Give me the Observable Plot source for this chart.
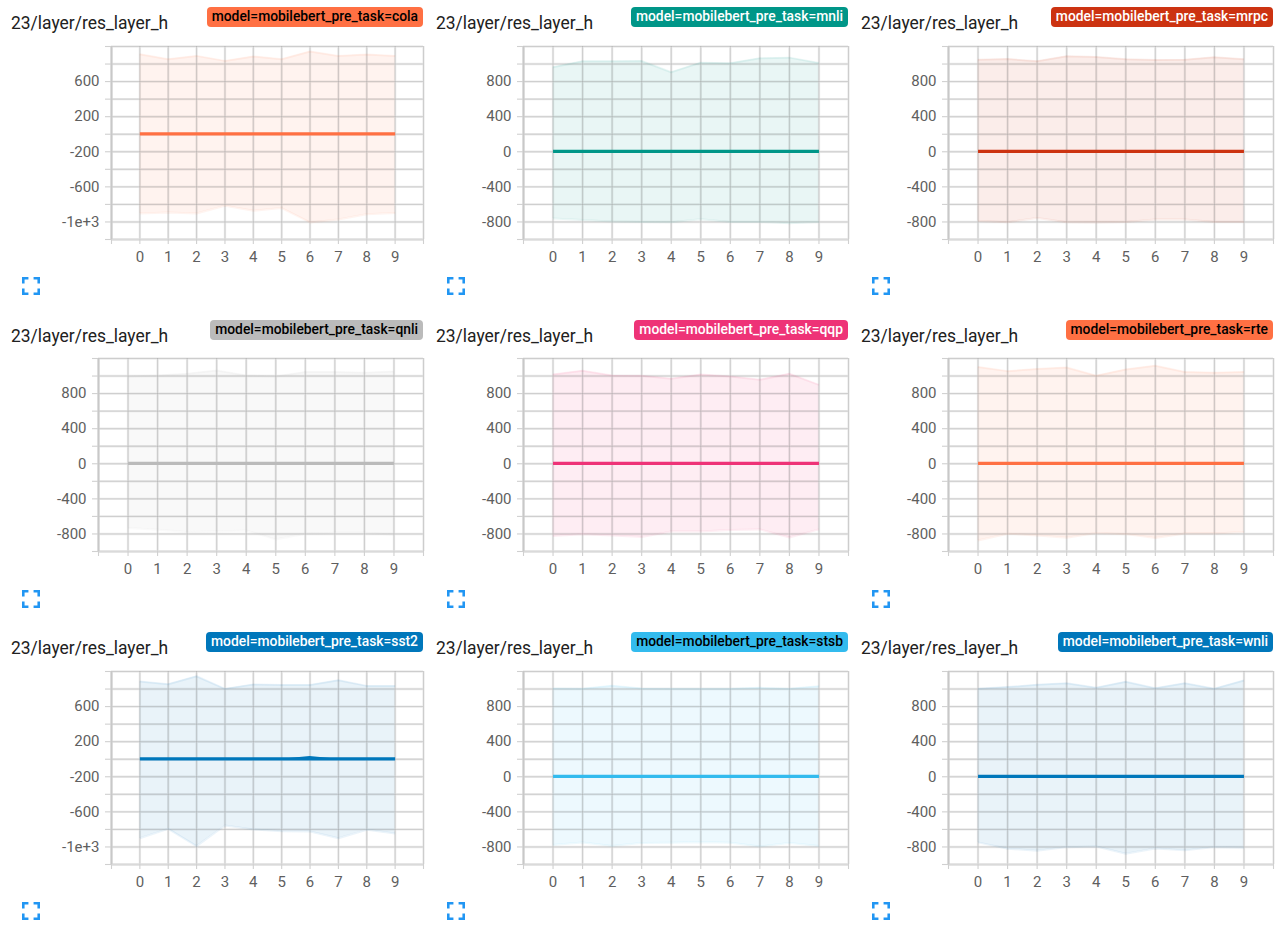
<!DOCTYPE html>
<html>
<head>
<meta charset="utf-8">
<script src="https://cdn.jsdelivr.net/npm/d3@7"></script>
<script src="https://cdn.jsdelivr.net/npm/@observablehq/plot@0.6"></script>
<style>
  html, body { margin: 0; padding: 0; background: #fff; }
  body { position: relative; width: 1278px; height: 928px; overflow: hidden; font-family: Roboto, sans-serif; }
  .panel { position: absolute; width: 425px; height: 312px; }
  .panel svg.chart { position: absolute; left: 0; background: transparent; }
  .title { position: absolute; left: 11px; top: 12px; font-size: 17.45px; line-height: 22px; color: #212121; white-space: nowrap; }
  .badge { position: absolute; right: 2px; top: 7px; height: 20px; line-height: 19px; padding: 0 5px; border-radius: 4px; font-size: 13.85px; font-weight: 500; white-space: nowrap; }
  .icon { position: absolute; left: 22px; top: 277px; width: 18px; height: 18px; }
</style>
</head>
<body>
<script>
var steps = [0, 1, 2, 3, 4, 5, 6, 7, 8, 9];
var xTicks = [-1, 0, 1, 2, 3, 4, 5, 6, 7, 8, 9, 10];

var tasks = ["cola", "mnli", "mrpc", "qnli", "qqp", "rte", "sst2", "stsb", "wnli"];
var colors = ["#ff7043", "#009688", "#cc3311", "#bbbbbb", "#ee3377", "#ff7043", "#0077bb", "#33bbee", "#0077bb"];
var badgeText = ["#000", "#fff", "#fff", "#000", "#fff", "#000", "#fff", "#000", "#fff"];

// distribution envelope per task
var colaUpper = [912, 855, 893, 836, 886, 855, 943, 893, 908, 893];
var colaLower = [-903, -892, -903, -816, -873, -842, -1005, -971, -911, -899];
var mnliUpper = [963, 1031, 1031, 1035, 906, 1016, 1009, 1065, 1073, 1012];
var mnliLower = [-762, -777, -796, -800, -803, -769, -800, -800, -815, -800];
var mrpcUpper = [1050, 1058, 1031, 1088, 1081, 1054, 1046, 1050, 1077, 1054];
var mrpcLower = [-788, -803, -754, -803, -807, -800, -773, -773, -800, -800];
var qnliUpper = [995, 1007, 1026, 1064, 1007, 995, 1045, 1045, 1037, 1052];
var qnliLower = [-733, -752, -779, -771, -760, -862, -798, -786, -786, -809];
var qqpUpper = [1018, 1060, 1007, 1003, 969, 1018, 995, 957, 1026, 900];
var qqpLower = [-824, -802, -817, -836, -771, -771, -756, -748, -840, -748];
var rteUpper = [1102, 1056, 1079, 1098, 1003, 1075, 1117, 1045, 1037, 1045];
var rteLower = [-874, -798, -817, -843, -790, -802, -847, -794, -794, -779];
var sst2Upper = [885, 855, 946, 802, 851, 847, 847, 900, 836, 836];
var sst2Lower = [-900, -794, -991, -756, -802, -820, -824, -900, -805, -847];
var stsbUpper = [1007, 1003, 1037, 1007, 1003, 1003, 1003, 1014, 1003, 1033];
var stsbLower = [-779, -748, -790, -756, -752, -745, -752, -794, -756, -790];
var wnliUpper = [1003, 1022, 1048, 1067, 1014, 1083, 1010, 1067, 1003, 1098];
var wnliLower = [-748, -820, -843, -802, -794, -877, -817, -839, -802, -809];

// means sit on zero, only sst2 moves a little around step 6
var flatMean = [0, 0, 0, 0, 0, 0, 0, 0, 0, 0];
var sst2Mean = [0, -3, 0, 0, 0, 0, 30, 0, 0, 0];

var uppers = [colaUpper, mnliUpper, mrpcUpper, qnliUpper, qqpUpper, rteUpper, sst2Upper, stsbUpper, wnliUpper];
var lowers = [colaLower, mnliLower, mrpcLower, qnliLower, qqpLower, rteLower, sst2Lower, stsbLower, wnliLower];
var means = [flatMean, flatMean, flatMean, flatMean, flatMean, flatMean, sst2Mean, flatMean, flatMean];

// two y layouts show up in the grid
var yDomains = [[-1200, 1000], [-1000, 1200], [-1000, 1200], [-1000, 1200], [-1000, 1200], [-1000, 1200], [-1200, 1000], [-1000, 1200], [-1000, 1200]];
var oddGrid = [-1200, -1000, -800, -600, -400, -200, 0, 200, 400, 600, 800, 1000];
var oddLabels = [-1000, -600, -200, 200, 600];
var evenGrid = [-1000, -800, -600, -400, -200, 0, 200, 400, 600, 800, 1000, 1200];
var evenLabels = [-800, -400, 0, 400, 800];

var colX = [0, 425, 850];
var rowY = [0, 313, 625];
var plotY = [0, -1, 0];
var titleText = "23/layer/res_layer_h";
var haloColor = "#ececec";
var coreColor = "#8c8c8c";

function drawPanel(i) {
    var odd = yDomains[i][0] === -1200;
    var gridVals = odd ? oddGrid : evenGrid;
    var labelVals = odd ? oddLabels : evenLabels;
    var color = colors[i];
    var data = steps.map(function (s, k) {
        return { step: s, hi: uppers[i][k], lo: lowers[i][k], mean: means[i][k] };
    });

    var chart = Plot.plot({
        width: 425,
        height: 270,
        marginTop: 46,
        marginBottom: 31,
        marginLeft: odd ? 111 : 98,
        marginRight: 2,
        style: { fontFamily: "Roboto, sans-serif", fontSize: "15px", color: "#5f5f5f", background: "transparent" },
        x: { domain: [-1, 10] },
        y: { domain: yDomains[i] },
        marks: [
            // blurry grid of the screenshot: a pale halo under the band, a thin core over it
            Plot.gridX(xTicks, { stroke: haloColor, strokeOpacity: 1, strokeWidth: 2.4 }),
            Plot.gridY(gridVals, { stroke: haloColor, strokeOpacity: 1, strokeWidth: 2.4 }),
            Plot.areaY(data, { x: "step", y1: "lo", y2: "hi", fill: color, fillOpacity: 0.085 }),
            Plot.gridX(xTicks, { stroke: coreColor, strokeOpacity: 0.32, strokeWidth: 1 }),
            Plot.gridY(gridVals, { stroke: coreColor, strokeOpacity: 0.32, strokeWidth: 1 }),
            Plot.ruleY([yDomains[i][0]], { stroke: "#dadada", strokeWidth: 2 }),
            Plot.ruleX([-1], { stroke: "#c8c8c8", strokeWidth: 2 }),
            Plot.lineY(data, { x: "step", y: "hi", stroke: color, strokeOpacity: 0.08, strokeWidth: 2, strokeLinecap: "butt" }),
            Plot.lineY(data, { x: "step", y: "lo", stroke: color, strokeOpacity: 0.08, strokeWidth: 2, strokeLinecap: "butt" }),
            Plot.areaY(data, { x: "step", y1: 0, y2: "mean", fill: color }),
            Plot.lineY(data, { x: "step", y: 0, stroke: color, strokeWidth: 3.2, strokeLinecap: "butt", dy: -0.4 }),
            Plot.axisX({
                ticks: xTicks, tickSize: 5, tickPadding: 7, label: null, stroke: "#d0d0d0", strokeWidth: 1.1,
                tickFormat: function (d) { return d >= 0 && d <= 9 ? String(d) : ""; }
            }),
            Plot.axisY({
                ticks: gridVals, tickSize: 6, tickPadding: 6, label: null, stroke: "#d0d0d0", strokeWidth: 1.1,
                tickFormat: function (d) {
                    if (labelVals.indexOf(d) < 0) return "";
                    return d === -1000 ? "-1e+3" : String(d);
                }
            })
        ]
    });
    chart.setAttribute("class", "chart");
    chart.style.top = plotY[Math.floor(i / 3)] + "px";

    var panel = d3.select("body").append("div").attr("class", "panel")
        .style("left", colX[i % 3] + "px")
        .style("top", rowY[Math.floor(i / 3)] + "px");
    panel.node().appendChild(chart);
    panel.append("div").attr("class", "title").text(titleText);
    panel.append("div").attr("class", "badge")
        .style("background", color)
        .style("color", badgeText[i])
        .text("model=mobilebert_pre_task=" + tasks[i]);
    panel.append("svg").attr("class", "icon").attr("viewBox", "5 5 14 14")
        .append("path").attr("fill", "#2196f3")
        .attr("d", "M7 14H5v5h5v-2H7v-3zm-2-4h2V7h3V5H5v5zm12 7h-3v2h5v-5h-2v3zM14 5v2h3v3h2V5h-5z");
}

tasks.forEach(function (t, i) { drawPanel(i); });
</script>
</body>
</html>
